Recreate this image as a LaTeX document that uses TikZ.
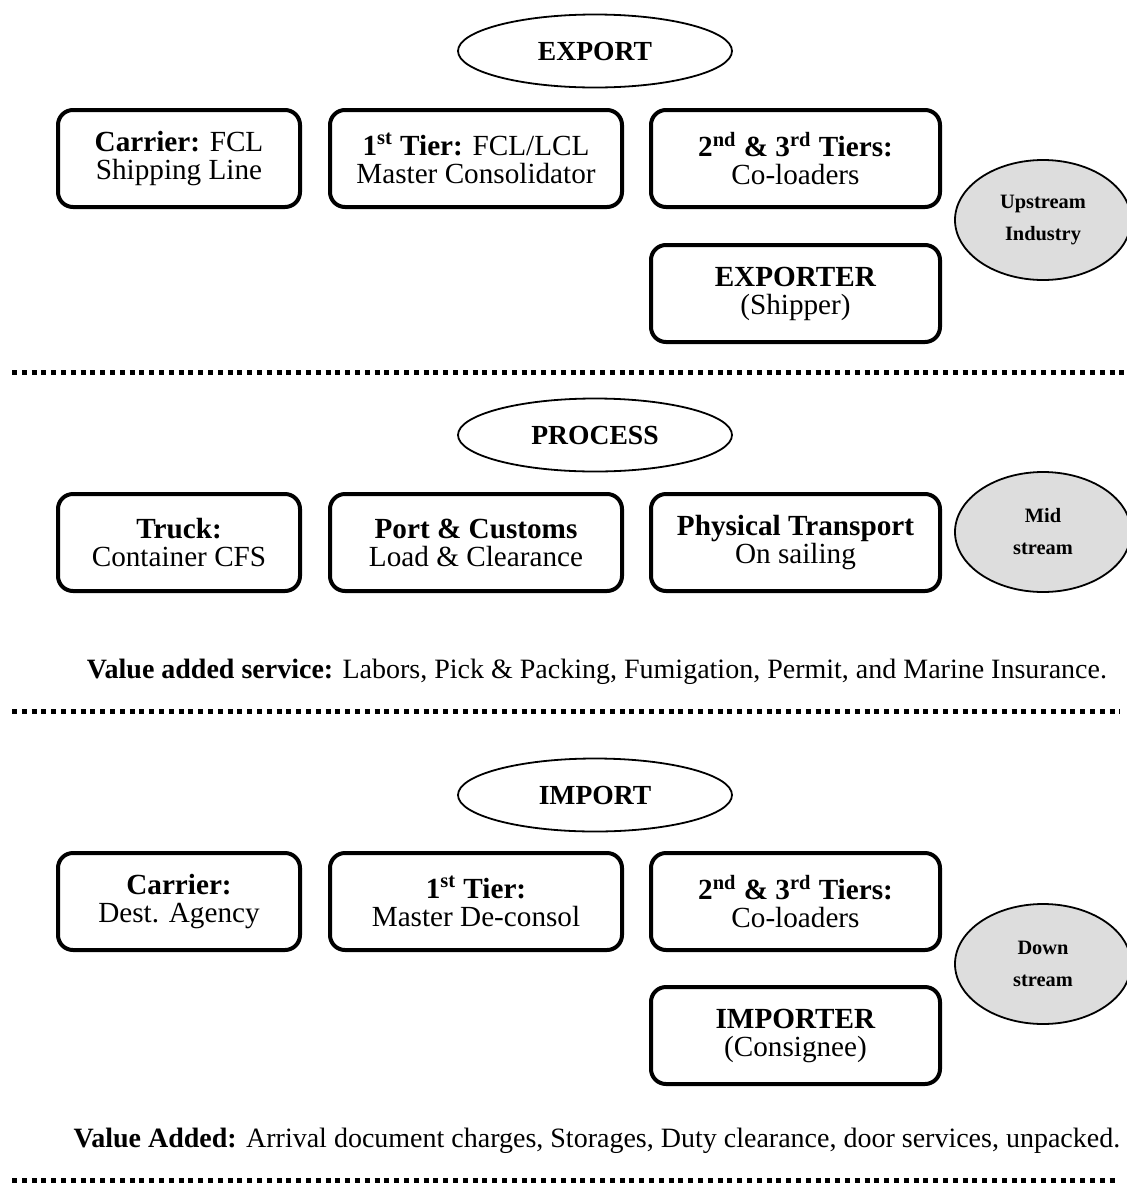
\documentclass[tikz,border=0pt]{standalone}
\usepackage{fontspec}
\setmainfont{Liberation Serif}
\usetikzlibrary{shapes.geometric,positioning}
\definecolor{streamgray}{RGB}{221,221,221}
\tikzset{
	tier/.style={draw, line width=2pt, rounded corners=7.5pt, align=center,
			inner sep=0pt, minimum width=#1, minimum height=48.5pt,
			font=\fontsize{14.6}{14}\selectfont},
	phase/.style={draw, ellipse, line width=0.9pt, minimum width=137pt,
			minimum height=36.5pt, inner sep=0pt,
			font=\fontsize{13.8}{14}\selectfont\bfseries},
	stream/.style={draw, ellipse, fill=streamgray, line width=0.9pt,
			minimum width=88pt, minimum height=60pt, inner sep=0pt, align=center,
			font=\fontsize{10.2}{16}\selectfont\bfseries},
	divider/.style={line width=2.5pt, dash pattern=on 2.5pt off 2.4pt},
	note/.style={anchor=base, font=\fontsize{14}{14}\selectfont}
}

\begin{document}
\begin{tikzpicture}[x=0.5pt, y=-0.5pt]
	\useasboundingbox (0,0) rectangle (1126,1195);

	% Export
	\node[phase] (export) at (595, 51) {EXPORT};
	\node[tier=121pt] (excarrier) at (179, 158.5) {\textbf{Carrier:} FCL\\Shipping Line};
	\node[tier=146pt] (exfirst) at (476, 158.5) {\textbf{1\textsuperscript{st} Tier:} FCL/LCL\\Master Consolidator};
	\node[tier=144.5pt] (excoload) at (795.5, 158.5) {\textbf{2\textsuperscript{nd} \& 3\textsuperscript{rd} Tiers:}\\Co-loaders};
	\node[tier=144.5pt, below=17pt of excoload] (exporter) {\textbf{EXPORTER}\\(Shipper)};
	\node[stream] (upstream) at (1043, 220) {Upstream\\Industry};

	\coordinate (div1l) at (12, 372);
	\coordinate (div1r) at (1126, 372);
	\draw[divider] (div1l) -- (div1r);

	% Process
	\node[phase] (process) at (595, 435) {PROCESS};
	\node[tier=121pt] (truck) at (179, 542.5) {\textbf{Truck:}\\Container CFS};
	\node[tier=146pt] (port) at (476, 542.5) {\textbf{Port \& Customs}\\Load \& Clearance};
	\node[tier=144.5pt] (transport) at (795.5, 542.5) {\textbf{Physical Transport}\\On sailing};
	\node[stream] (midstream) at (1043, 532) {Mid\\stream};

	\node[note] (valueproc) at (597, 678) {\textbf{Value added service:} Labors, Pick \& Packing, Fumigation, Permit, and Marine Insurance.};

	\coordinate (div2l) at (12, 711);
	\coordinate (div2r) at (1120, 711);
	\draw[divider] (div2l) -- (div2r);

	% Import
	\node[phase] (import) at (595, 795) {IMPORT};
	\node[tier=121pt] (imcarrier) at (179, 901.5) {\textbf{Carrier:}\\Dest. Agency};
	\node[tier=146pt] (imfirst) at (476, 901.5) {\textbf{1\textsuperscript{st} Tier:}\\Master De-consol};
	\node[tier=144.5pt] (imcoload) at (795.5, 901.5) {\textbf{2\textsuperscript{nd} \& 3\textsuperscript{rd} Tiers:}\\Co-loaders};
	\node[tier=144.5pt, below=16.5pt of imcoload] (importer) {\textbf{IMPORTER}\\(Consignee)};
	\node[stream] (downstream) at (1043, 964) {Down\\stream};

	\node[note] (valueimp) at (597, 1147) {\textbf{Value Added:} Arrival document charges, Storages, Duty clearance, door services, unpacked.};

	\coordinate (div3l) at (12, 1180);
	\coordinate (div3r) at (1115, 1180);
	\draw[divider] (div3l) -- (div3r);
\end{tikzpicture}
\end{document}
